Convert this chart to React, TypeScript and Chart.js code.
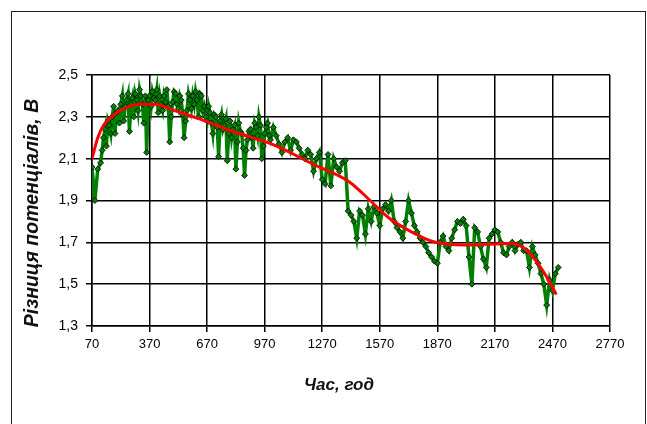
import React, { useEffect, useRef } from "react";
import { Chart, registerables } from "chart.js";

Chart.register(...registerables);

const hours = [
  70, 85, 100, 115, 130, 145, 160, 175, 190, 205,
  220, 235, 250, 265, 280, 295, 310, 325, 340, 355,
  370, 385, 400, 415, 430, 445, 460, 475, 490, 505,
  520, 535, 550, 565, 580, 595, 610, 625, 640, 655,
  670, 685, 700, 715, 730, 745, 760, 775, 790, 805,
  820, 835, 850, 865, 880, 895, 910, 925, 940, 955,
  970, 985, 1000, 1015, 1030, 1045, 1060, 1075, 1090, 1105,
  1120, 1135, 1150, 1165, 1180, 1195, 1210, 1225, 1240, 1255,
  1270, 1285, 1300, 1315, 1330, 1345, 1360, 1375, 1390, 1405,
  1420, 1435, 1450, 1465, 1480, 1495, 1510, 1525, 1540, 1555,
  1570, 1585, 1600, 1615, 1630, 1645, 1660, 1675, 1690, 1705,
  1720, 1735, 1750, 1765, 1780, 1795, 1810, 1825, 1840, 1855,
  1870, 1885, 1900, 1915, 1930, 1945, 1960, 1975, 1990, 2005,
  2020, 2035, 2050, 2065, 2080, 2095, 2110, 2125, 2140, 2155,
  2170, 2185, 2200, 2215, 2230, 2245, 2260, 2275, 2290, 2305,
  2320, 2335, 2350, 2365, 2380, 2395, 2410, 2425, 2440, 2455,
  2470, 2485, 2500,
];

const potential = [
  2.06, 1.90, 2.05, 2.08, 2.20, 2.16, 2.26, 2.30, 2.22, 2.33,
  2.36, 2.28, 2.38, 2.23, 2.39, 2.41, 2.33, 2.40, 2.27, 2.13,
  2.40, 2.42, 2.38, 2.32, 2.36, 2.40, 2.43, 2.18, 2.37, 2.41,
  2.34, 2.38, 2.20, 2.33, 2.38, 2.40, 2.42, 2.30, 2.40, 2.35,
  2.28, 2.32, 2.22, 2.30, 2.11, 2.31, 2.26, 2.09, 2.28, 2.24,
  2.05, 2.27, 2.22, 2.02, 2.19, 2.24, 2.15, 2.25, 2.30, 2.10,
  2.22, 2.27, 2.19, 2.25, 2.21, 2.17, 2.13, 2.18, 2.20, 2.14,
  2.19, 2.18, 2.15, 2.12, 2.10, 2.14, 2.12, 2.04, 2.10, 2.13,
  2.00, 1.98, 2.12, 1.97, 2.10, 2.06, 2.04, 2.08, 2.09, 1.85,
  1.83, 1.80, 1.72, 1.85, 1.83, 1.74, 1.86, 1.80, 1.87, 1.84,
  1.78, 1.86, 1.88, 1.85, 1.90, 1.80, 1.77, 1.75, 1.72, 1.80,
  1.90, 1.84, 1.78, 1.75, 1.72, 1.70, 1.68, 1.65, 1.63, 1.61,
  1.60, 1.70, 1.73, 1.68, 1.66, 1.72, 1.76, 1.80, 1.79, 1.81,
  1.78, 1.63, 1.50, 1.77, 1.75, 1.68, 1.62, 1.58, 1.72, 1.74,
  1.76, 1.75, 1.70, 1.65, 1.64, 1.68, 1.70, 1.66, 1.69, 1.70,
  1.66, 1.66, 1.58, 1.68, 1.64, 1.60, 1.55, 1.50, 1.40, 1.52,
  1.47, 1.55, 1.58,
];

// Extra, denser readings in the first 1000 hours
const extraHours = [
  123, 138, 153, 168, 183, 198, 213, 228, 243, 258,
  273, 288, 303, 318, 333, 348, 363, 378, 393, 408,
  423, 438, 453, 468, 483, 498, 513, 528, 543, 558,
  573, 588, 603, 618, 633, 648, 663, 678, 693, 708,
  723, 738, 753, 768, 783, 798, 813, 828, 843, 858,
  873, 888, 903, 918, 933, 948, 963, 978, 993,
];
const extraPotential = [
  2.14, 2.24, 2.28, 2.22, 2.35, 2.32, 2.27, 2.40, 2.35, 2.41,
  2.36, 2.30, 2.38, 2.43, 2.36, 2.40, 2.38, 2.35, 2.39, 2.43,
  2.40, 2.33, 2.37, 2.35, 2.30, 2.42, 2.36, 2.40, 2.31, 2.28,
  2.41, 2.34, 2.36, 2.38, 2.41, 2.33, 2.30, 2.35, 2.27, 2.31,
  2.25, 2.28, 2.24, 2.29, 2.22, 2.20, 2.26, 2.18, 2.23, 2.15,
  2.14, 2.23, 2.20, 2.27, 2.21, 2.26, 2.16, 2.25, 2.21,
];

const trendHours = [
  70, 100, 130, 170, 240, 320, 400, 500, 630, 820, 1020, 1230, 1410,
  1520, 1620, 1800, 1860, 2010, 2260, 2310, 2350, 2440, 2490,
];
const trendValues = [
  2.10, 2.20, 2.26, 2.30, 2.34, 2.36, 2.36, 2.33, 2.29, 2.225, 2.165, 2.07, 1.99,
  1.90, 1.815, 1.72, 1.70, 1.687, 1.695, 1.68, 1.65, 1.535, 1.45,
];

const X_MIN = 70;
const X_MAX = 2770;
const X_STEP = 300;
const Y_MIN = 1.3;
const Y_MAX = 2.5;
const Y_STEP = 0.2;

const xTitle = "Час, год";
const yTitle = "Різниця потенціалів, В";

const FONT = '"Liberation Sans", Arial, sans-serif';

const framePlugin = {
  id: "frame",
  beforeDraw(chart: any) {
    const ctx = chart.ctx;
    ctx.save();
    ctx.fillStyle = "#ffffff";
    ctx.fillRect(0, 0, chart.width, chart.height);
    ctx.strokeStyle = "#222222";
    ctx.lineWidth = 1;
    ctx.strokeRect(11.5, 11.5, 634, 440);
    ctx.restore();
  },
  afterDraw(chart: any) {
    const ctx = chart.ctx;
    ctx.save();
    ctx.fillStyle = "#111111";
    ctx.textAlign = "center";
    ctx.textBaseline = "middle";
    ctx.font = `italic bold 17px ${FONT}`;
    ctx.fillText(xTitle, 339, 385);
    ctx.translate(33, 213);
    ctx.rotate(-Math.PI / 2);
    ctx.font = `italic bold 19.5px ${FONT}`;
    ctx.fillText(yTitle, 0, 0);
    ctx.restore();
  },
};

export default function App() {
  const ref = useRef<HTMLCanvasElement | null>(null);

  useEffect(() => {
    if (!ref.current) return;
    const measured = hours
      .map((h, i) => ({ x: h, y: potential[i] }))
      .concat(extraHours.map((h, i) => ({ x: h, y: extraPotential[i] })))
      .sort((a, b) => a.x - b.x);
    const trend = trendHours.map((h, i) => ({ x: h, y: trendValues[i] }));
    const chart = new Chart(ref.current, {
      type: "line",
      data: {
        datasets: [
          {
            data: trend,
            borderColor: "#ff0000",
            borderWidth: 3,
            pointRadius: 0,
            cubicInterpolationMode: "monotone",
            order: 0,
          },
          {
            data: measured,
            borderColor: "#008000",
            borderWidth: 3.5,
            pointStyle: "rectRot",
            pointRadius: 3,
            pointBackgroundColor: "#008000",
            pointBorderColor: "#000000",
            pointBorderWidth: 0.8,
            tension: 0,
            order: 1,
          },
        ],
      },
      options: {
        responsive: false,
        animation: false,
        layout: { padding: { top: 75, right: 37, left: 0, bottom: 0 } },
        plugins: {
          legend: { display: false },
          tooltip: { enabled: false },
          title: { display: false },
        },
        scales: {
          x: {
            type: "linear",
            min: X_MIN,
            max: X_MAX,
            afterFit: (s: any) => {
              s.height = 98;
            },
            ticks: {
              stepSize: X_STEP,
              color: "#000000",
              padding: 5,
              maxRotation: 0,
              autoSkip: false,
              font: { family: FONT, size: 13 },
              callback: (v: any) => String(v),
            },
            grid: {
              color: "#000000",
              lineWidth: 1.5,
              tickLength: 6,
            },
            border: { color: "#000000", width: 1.5 },
          },
          y: {
            type: "linear",
            min: Y_MIN,
            max: Y_MAX,
            afterFit: (s: any) => {
              s.width = 92;
            },
            ticks: {
              stepSize: Y_STEP,
              color: "#000000",
              padding: 8,
              font: { family: FONT, size: 14 },
              callback: (v: any) => Number(v).toFixed(1).replace(".", ","),
            },
            grid: {
              color: "#000000",
              lineWidth: 1.5,
              tickLength: 6,
            },
            border: { color: "#000000", width: 1.5 },
          },
        },
      },
      plugins: [framePlugin],
    });
    return () => chart.destroy();
  }, []);

  return (
    <div style={{ position: "absolute", left: 0, top: 0, width: 647, height: 424, background: "#fff" }}>
      <canvas ref={ref} width={647} height={424} style={{ display: "block", width: 647, height: 424 }} />
    </div>
  );
}
